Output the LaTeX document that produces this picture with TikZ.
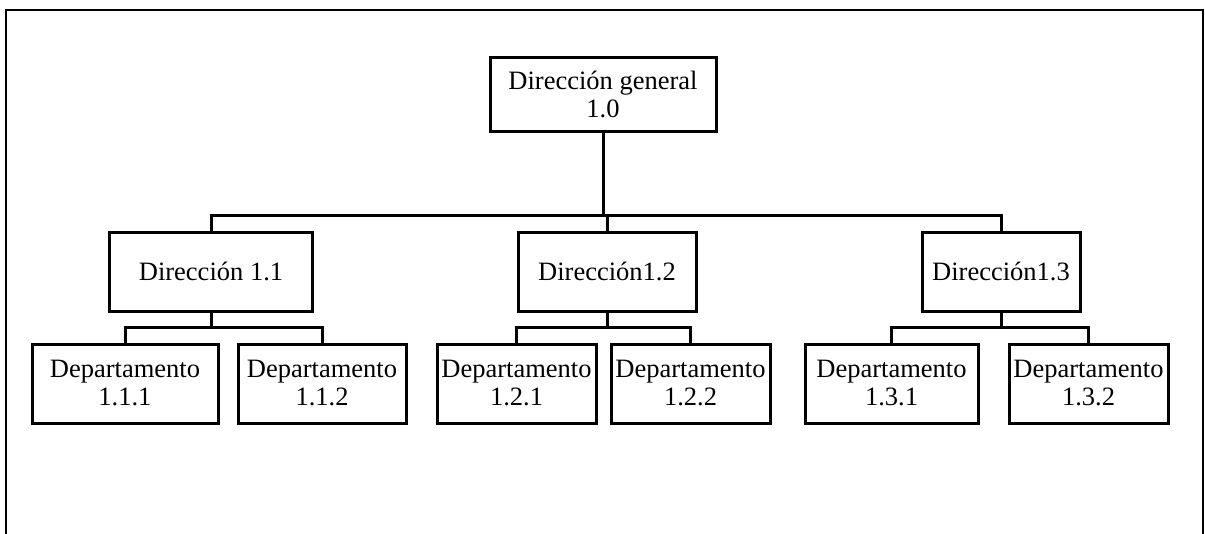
\documentclass[tikz,border=0pt]{standalone}
\usepackage{fontspec}
\setmainfont{Liberation Serif}
\begin{document}
\begin{tikzpicture}[x=1pt,y=-1pt,
  box/.style={draw, line width=3pt, rectangle, inner sep=0pt, align=center,
    font=\fontsize{26.5}{28}\selectfont},
  dirbox/.style={box, minimum height=79pt},
  depbox/.style={box, minimum height=79pt},
  link/.style={line width=3pt}]
\useasboundingbox (0,0) rectangle (1205,533);
% open outer frame
\draw[line width=2.8pt] (6,540) -- (6,10) -- (1203,10) -- (1203,540);

% general direction
\node[box, minimum width=226pt, minimum height=74pt] (top) at (603,94) {Dirección general\\1.0};

% directions
\node[dirbox, minimum width=203pt] (d11) at (211,271.5) {Dirección 1.1};
\node[dirbox, minimum width=178pt] (d12) at (607,271.5) {Dirección1.2};
\node[dirbox, minimum width=158pt] (d13) at (1001,271.5) {Dirección1.3};

% departments
\node[depbox, minimum width=186pt] (p111) at (125,383.5) {Departamento\\1.1.1};
\node[depbox, minimum width=168pt] (p112) at (322,383.5) {Departamento\\1.1.2};
\node[depbox, minimum width=159pt] (p121) at (516.5,383.5) {Departamento\\1.2.1};
\node[depbox, minimum width=159pt] (p122) at (690.5,383.5) {Departamento\\1.2.2};
\node[depbox, minimum width=173pt] (p131) at (891.5,383.5) {Departamento\\1.3.1};
\node[depbox, minimum width=159pt] (p132) at (1088.5,383.5) {Departamento\\1.3.2};

% bus levels
\coordinate (bus) at (0,215);
\coordinate (sub) at (0,327);

% top level connectors
\draw[link] (top.south) -- (top.south |- bus);
\draw[link] (d11.north) |- (d13.north |- bus) -- (d13.north);
\draw[link] (d12.north) -- (d12.north |- bus);

% department connectors
\draw[link] (d11.south) -- (d11.south |- sub);
\draw[link] (p111.north) |- (p112.north |- sub) -- (p112.north);
\draw[link] (d12.south) -- (d12.south |- sub);
\draw[link] (p121.north) |- (p122.north |- sub) -- (p122.north);
\draw[link] (d13.south) -- (d13.south |- sub);
\draw[link] (p131.north) |- (p132.north |- sub) -- (p132.north);
\end{tikzpicture}
\end{document}
